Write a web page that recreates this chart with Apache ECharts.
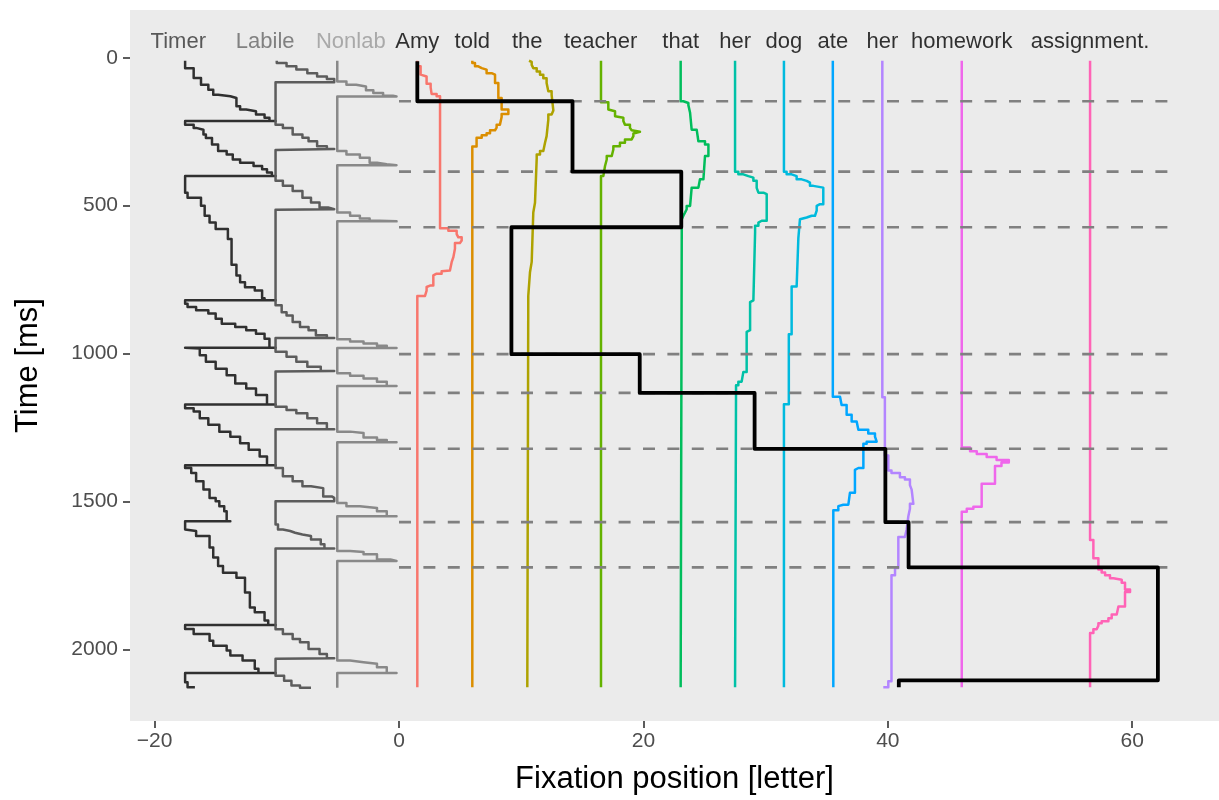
<!DOCTYPE html>
<html><head><meta charset="utf-8">
<script src="https://cdn.jsdelivr.net/npm/echarts@6/dist/echarts.min.js"></script>
<style>html,body{margin:0;padding:0;background:#fff}#c{width:1219px;height:800px}</style>
</head><body><div id="c"></div>
<script>
const FONT = '"Liberation Sans", Arial, Helvetica, sans-serif';
const xTicks = [-20, 0, 20, 40, 60];
const yTicks = [0, 500, 1000, 1500, 2000];
const stageNames = ['Timer', 'Labile', 'Nonlab'];
const stageLabelX = [-18.06, -10.95, -3.94];
const stageTextColors = ['#333333', '#666666', '#999999'];
const stageLineColors = ['#303030', '#5c5c5c', '#898989'];
const words = ['Amy', 'told', 'the', 'teacher', 'that', 'her', 'dog', 'ate', 'her', 'homework', 'assignment.'];
const wordX = [1.5, 6.0, 10.5, 16.5, 23.05, 27.5, 31.5, 35.5, 39.55, 46.05, 56.55];
const wordColors = ['#F8766D', '#DB8E00', '#AEA200', '#64B200', '#00BD5C', '#00C1A7', '#00BADE', '#00A6FF', '#B385FF', '#EF67EB', '#FF63B6'];
const labelT = -54;

// [x position, time at which that x starts] ; drawn as a stair (vertical first)
const timerPath = [[-17.5,10],[-16.8,35],[-16.2,68],[-15.6,91],[-15.2,108],[-14.8,125],[-13.8,130],[-13.3,136],[-13.0,164],[-12.5,175],[-11.7,181],[-11.0,192],[-10.6,203],[-10.1,214],[-17.5,214],
[-16.8,226],[-16.6,237],[-16.0,243],[-15.8,259],[-15.3,271],[-14.8,293],[-14.1,315],[-13.6,327],[-13.0,344],[-11.9,355],[-11.2,366],[-10.8,377],[-10.4,388],[-10.1,400],[-17.5,400],
[-17.3,456],[-16.2,473],[-15.9,500],[-15.5,534],[-15.0,557],[-14.0,579],[-13.7,613],[-13.3,700],[-13.0,736],[-12.6,759],[-11.8,776],[-11.2,787],[-11.0,813],[-10.1,820],[-17.5,820],
[-17.3,832],[-16.6,843],[-15.6,854],[-15.0,865],[-14.5,882],[-13.4,899],[-12.5,910],[-11.7,921],[-11.0,933],[-10.6,950],[-10.1,980],[-17.5,980],
[-16.3,983],[-15.8,1006],[-15.0,1028],[-14.1,1051],[-13.4,1073],[-12.5,1101],[-11.7,1118],[-10.8,1140],[-10.1,1172],[-17.5,1172],
[-16.8,1185],[-16.3,1196],[-15.6,1219],[-14.7,1241],[-13.8,1264],[-13.0,1281],[-12.3,1303],[-11.4,1325],[-10.8,1348],[-10.1,1378],[-17.5,1378],
[-17.0,1387],[-16.6,1404],[-16.0,1432],[-15.5,1460],[-15.0,1488],[-14.7,1499],[-14.3,1516],[-14.1,1533],[-13.8,1567],[-17.5,1567],
[-17.4,1595],[-16.6,1600],[-15.5,1617],[-15.2,1656],[-14.8,1690],[-14.4,1718],[-13.3,1741],[-12.6,1758],[-12.2,1808],[-11.8,1859],[-11.0,1875],[-10.7,1903],[-10.1,1918],[-17.5,1918],
[-16.8,1931],[-15.5,1948],[-15.2,1971],[-14.1,1988],[-13.8,2004],[-12.8,2021],[-11.8,2038],[-11.5,2066],[-10.1,2080],[-17.5,2080],
[-17.3,2111],[-16.7,2128],[-16.7,2130]];

const labilePath = [[-10.0,10],[-9.2,18],[-8.4,29],[-7.5,40],[-6.7,52],[-5.9,63],[-5.3,72],[-10.1,83],
[-9.5,226],[-8.7,237],[-7.9,259],[-7.4,270],[-6.7,282],[-5.9,299],[-5.3,308],[-10.1,312],
[-9.5,416],[-8.7,433],[-7.9,450],[-7.2,473],[-6.5,489],[-5.8,506],[-5.3,512],[-10.1,514],
[-9.6,837],[-9.2,860],[-8.7,871],[-8.1,893],[-7.4,910],[-6.8,921],[-5.9,938],[-5.3,947],[-10.1,947],
[-9.2,994],[-8.4,1011],[-7.5,1028],[-6.4,1045],[-5.3,1059],[-10.1,1061],
[-9.2,1180],[-8.4,1191],[-7.5,1202],[-6.7,1219],[-5.9,1236],[-5.3,1256],[-10.1,1256],
[-9.5,1387],[-8.7,1415],[-7.9,1432],[-7.2,1449],[-6.2,1455],[-5.5,1483],[-5.3,1488],[-10.1,1499],
[-9.9,1578],[-9.5,1595],[-8.9,1600],[-8.5,1606],[-7.9,1612],[-7.2,1617],[-6.4,1629],[-6.1,1645],[-5.3,1659],[-10.1,1659],
[-9.5,1932],[-8.7,1948],[-8.1,1965],[-7.4,1976],[-6.5,1999],[-5.9,2016],[-5.3,2030],[-10.1,2032],
[-9.4,2089],[-8.8,2106],[-8.1,2122],[-7.2,2130]];

const nonlabPath = [[-5.05,10],[-4.3,80],[-3.5,91],[-2.7,97],[-2.1,110],[-1.3,119],[-0.5,128],[-0.2,131],[-5.05,131],
[-4.3,315],[-3.2,327],[-2.4,338],[-1.8,355],[-1.0,360],[-0.2,363],[-5.05,363],
[-4.0,523],[-3.2,534],[-2.4,543],[-1.6,551],[-0.2,553],[-5.05,553],
[-4.0,952],[-2.9,959],[-1.8,966],[-1.0,974],[-0.2,981],[-5.05,981],
[-4.0,1067],[-2.9,1075],[-1.8,1084],[-1.0,1095],[-0.2,1110],[-5.05,1110],
[-4.0,1264],[-2.9,1269],[-1.8,1284],[-1.0,1292],[-0.2,1300],[-5.05,1300],
[-4.3,1505],[-3.2,1516],[-1.8,1522],[-1.0,1533],[-0.2,1550],[-5.05,1550],
[-4.0,1668],[-2.9,1671],[-1.8,1679],[-0.7,1696],[-0.2,1701],[-5.05,1701],
[-4.0,2038],[-2.9,2044],[-1.8,2049],[-1.0,2061],[-0.2,2080],[-5.05,2080],[-5.05,2130]];

const actAmy = [[1.5,10],[1.77,29],[1.85,57],[2.26,63],[2.59,88],[2.67,100],[3.08,122],[3.36,130],[4.04,576],[4.72,585],[4.86,596],[5.13,607],[4.99,618],[4.58,626],[4.45,646],[4.31,674],[4.17,691],[4.04,719],[3.49,722],[3.08,730],[2.81,736],[2.54,770],[2.26,775],[2.13,787],[1.5,805],[1.5,2128]];
const actTold = [[6.0,10],[6.22,18],[6.49,29],[6.77,35],[7.17,40],[7.58,52],[7.86,57],[8.13,85],[8.40,136],[8.95,175],[8.40,190],[8.26,200],[7.99,226],[7.86,236],[7.45,245],[7.17,255],[6.77,262],[6.35,270],[6.0,300],[6.0,2128]];
const actThe = [[10.64,10],[10.86,14],[10.99,24],[11.27,35],[11.54,46],[11.81,57],[12.08,69],[12.22,85],[12.49,113],[12.63,125],[12.49,178],[12.22,192],[12.08,209],[11.95,265],[11.81,287],[11.54,315],[11.27,327],[11.13,340],[10.99,490],[10.86,523],[10.72,690],[10.58,725],[10.5,805],[10.5,2128]];
const actTeacher = [[16.53,10],[17.13,150],[17.27,175],[17.68,181],[17.81,198],[18.36,203],[18.49,214],[18.9,226],[19.04,237],[19.18,245],[19.72,250],[19.18,256],[19.04,265],[18.49,276],[18.08,287],[17.54,299],[17.41,310],[17.0,332],[16.86,344],[16.72,366],[16.53,400],[16.53,2128]];
const actThat = [[23.05,10],[23.27,147],[23.68,153],[23.82,160],[23.95,186],[24.36,243],[24.5,248],[25.04,282],[25.32,293],[25.04,332],[24.91,338],[24.63,411],[24.5,416],[23.95,439],[23.82,445],[23.54,501],[23.41,512],[23.27,523],[23.14,534],[23.05,546],[23.05,2128]];
const actHer1 = [[27.5,10],[27.77,385],[28.18,394],[28.59,400],[29.0,405],[29.27,416],[29.41,440],[29.82,456],[30.09,461],[29.68,551],[29.41,557],[29.14,568],[29.0,590],[28.86,820],[28.73,826],[28.59,921],[28.45,927],[28.18,1062],[28.04,1067],[27.77,1095],[27.58,1107],[27.5,1118],[27.5,2128]];
const actDog = [[31.5,10],[31.72,385],[32.13,394],[32.54,400],[32.95,411],[33.36,416],[33.63,422],[33.9,433],[34.72,439],[34.45,495],[34.18,501],[34.04,517],[33.77,534],[33.36,540],[32.81,546],[32.68,551],[32.54,610],[32.13,773],[31.9,935],[31.5,1171],[31.5,2128]];
const actAte = [[35.5,10],[36.09,1146],[36.22,1152],[36.63,1174],[37.04,1207],[37.45,1230],[37.59,1236],[38.4,1258],[38.95,1270],[39.09,1281],[38.27,1298],[38.0,1305],[37.59,1387],[37.31,1393],[36.9,1471],[36.77,1477],[36.36,1511],[35.95,1516],[35.54,1530],[35.54,2128]];
const actHer2 = [[39.55,10],[39.76,1148],[40.04,1345],[40.3,1395],[40.99,1404],[41.4,1418],[41.81,1426],[41.95,1445],[42.09,1460],[41.81,1508],[41.68,1525],[41.54,1550],[41.4,1595],[40.86,1620],[40.59,1725],[40.3,1750],[40.04,2108],[39.63,2128]];
const actHomework = [[46.05,10],[46.73,1318],[47.28,1330],[48.09,1340],[48.9,1350],[49.9,1360],[49.3,1368],[48.77,1380],[47.68,1440],[47.0,1518],[46.46,1525],[46.05,1535],[46.05,2128]];
const actAssignment = [[56.55,10],[56.82,1630],[57.23,1692],[57.5,1730],[57.78,1740],[58.18,1750],[58.46,1760],[59.14,1765],[59.41,1775],[59.82,1798],[59.41,1806],[58.87,1855],[58.73,1860],[58.32,1882],[58.05,1895],[57.5,1905],[57.23,1912],[57.09,1920],[56.82,1932],[56.55,1945],[56.55,2128]];

const fixOnset = [12, 147, 385, 573, 1002, 1133, 1322, 1570, 1723, 2105];
const fixPos = [1.5, 14.2, 23.1, 9.2, 19.7, 29.1, 39.8, 41.7, 62.1, 40.9];
const fixEnd = 2128;
const dashTimes = [147, 385, 573, 1002, 1133, 1322, 1570, 1723];
const dashFrom = 0;
const dashTo = 63.1;

const wordActs = [actAmy, actTold, actThe, actTeacher, actThat, actHer1, actDog, actAte, actHer2, actHomework, actAssignment];

function stair(data, color, width) {
  return { type: 'line', data: data, step: 'start', symbol: 'none', showSymbol: false, silent: true,
    lineStyle: { color: color, width: width, join: 'round' }, animation: false };
}

const series = [];
[timerPath, labilePath, nonlabPath].forEach((p, i) => series.push(stair(p, stageLineColors[i], 2.5)));
wordActs.forEach((p, i) => series.push(stair(p, wordColors[i], 2.5)));
dashTimes.forEach(t => series.push({ type: 'line', data: [[dashFrom, t], [dashTo, t]], symbol: 'none', silent: true, animation: false,
  lineStyle: { color: '#808080', width: 2.6, type: [12, 12.4] } }));
const fixData = fixPos.map((x, i) => [x, fixOnset[i]]);
fixData.push([fixPos[fixPos.length - 1], fixEnd]);
series.push(stair(fixData, '#000000', 3.8));
series.push({ type: 'scatter', symbolSize: 0, silent: true, animation: false,
  data: words.map((w, i) => ({ value: [wordX[i], labelT], name: w })),
  label: { show: true, position: 'inside', formatter: '{b}', color: '#000', fontSize: 22, fontFamily: FONT } });
series.push({ type: 'scatter', symbolSize: 0, silent: true, animation: false,
  data: stageNames.map((w, i) => ({ value: [stageLabelX[i], labelT], name: w, label: { color: stageTextColors[i] } })),
  label: { show: true, position: 'inside', formatter: '{b}', fontSize: 22, fontFamily: FONT } });

const chart = echarts.init(document.getElementById('c'), null, { renderer: 'canvas' });
chart.setOption({
  animation: false,
  backgroundColor: '#ffffff',
  grid: { left: 130, right: 0, top: 10, bottom: 76, show: true, backgroundColor: '#EBEBEB', borderWidth: 0, containLabel: false },
  xAxis: {
    type: 'value', min: -22.01, max: 67.1, position: 'bottom',
    name: 'Fixation position [letter]', nameLocation: 'middle', nameGap: 43,
    nameTextStyle: { fontSize: 31, color: '#000', fontFamily: FONT },
    axisLine: { show: false, onZero: false }, splitLine: { show: false },
    axisTick: { show: true, length: 7, lineStyle: { color: '#333333', width: 1.6 }, customValues: xTicks },
    axisLabel: { customValues: xTicks, fontSize: 21, color: '#4D4D4D', fontFamily: FONT, margin: 10,
      formatter: v => String(v).replace('-', '\u2212') }
  },
  yAxis: {
    type: 'value', inverse: true, min: -161.6, max: 2242.4, position: 'left',
    name: 'Time [ms]', nameLocation: 'middle', nameGap: 86,
    nameTextStyle: { fontSize: 31, color: '#000', fontFamily: FONT },
    axisLine: { show: false, onZero: false }, splitLine: { show: false },
    axisTick: { show: true, length: 7, lineStyle: { color: '#333333', width: 1.6 }, customValues: yTicks },
    axisLabel: { customValues: yTicks, fontSize: 21, color: '#4D4D4D', fontFamily: FONT, margin: 12,
      formatter: v => String(v) }
  },
  series: series
});
</script></body></html>
